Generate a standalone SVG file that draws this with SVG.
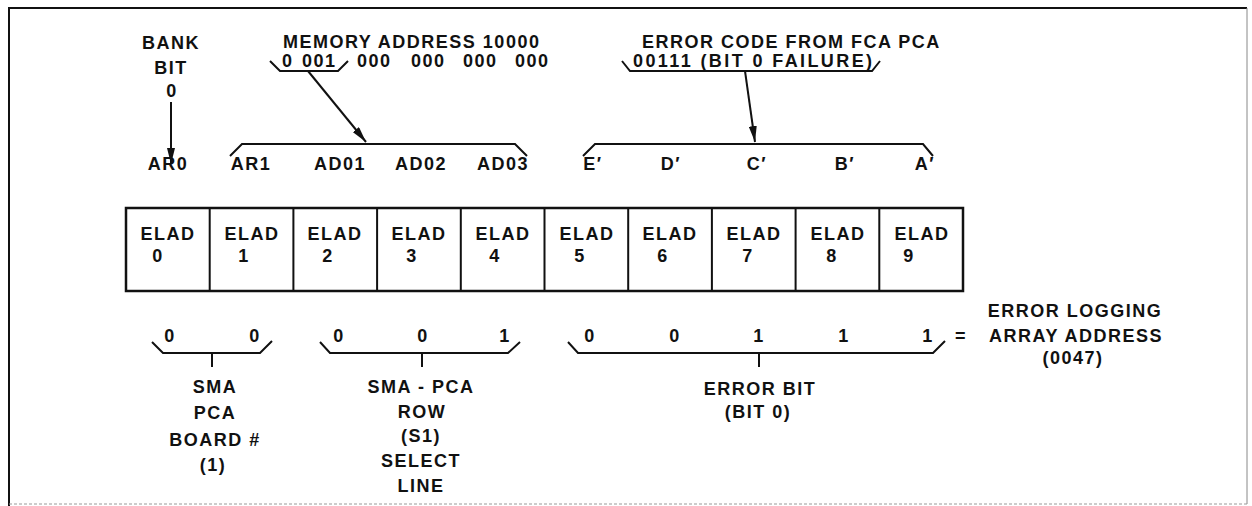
<svg xmlns="http://www.w3.org/2000/svg" width="1252" height="506" viewBox="0 0 1252 506">
<style>
text{font-family:"Liberation Sans",Arial,sans-serif;font-size:18px;font-weight:bold;fill:#111;letter-spacing:1.5px}
.m{text-anchor:middle}
.ln{fill:none;stroke:#111;stroke-width:2}
.cell{fill:#fff;stroke:#111;stroke-width:2.5}
</style>
<defs>
<marker id="ah" viewBox="0 0 16 8" refX="16" refY="4" markerWidth="16" markerHeight="8" markerUnits="userSpaceOnUse" orient="auto">
<path d="M0,0 L16,4 L0,8 Z" fill="#111"/>
</marker>
</defs>
<rect width="1252" height="506" fill="#fff"/>
<g id="frame">
<path d="M9,506 V8 H1247" fill="none" stroke="#111" stroke-width="2"/>
<path d="M1247,8 V504" fill="none" stroke="#888" stroke-width="1"/>
<path d="M9,504 H1247" fill="none" stroke="#999" stroke-width="1" stroke-dasharray="3 2"/>
</g>
<g id="bank-bit">
<text class="m" x="171" y="49">BANK</text>
<text class="m" x="171" y="74">BIT</text>
<text class="m" x="172" y="97">0</text>
</g>
<g id="memory-address">
<text x="283" y="48">MEMORY ADDRESS 10000</text>
<text y="67"><tspan x="282">0</tspan><tspan x="302">001</tspan><tspan x="357">000</tspan><tspan x="411">000</tspan><tspan x="463">000</tspan><tspan x="515">000</tspan></text>
</g>
<g id="error-code">
<text x="642" y="48">ERROR CODE FROM FCA PCA</text>
<text x="633" y="67" style="letter-spacing:2.4px">00111 (BIT 0 FAILURE)</text>
</g>
<g id="signal-labels">
<text class="m" x="168" y="170">AR0</text>
<text class="m" x="251" y="170">AR1</text>
<text class="m" x="340" y="170">AD01</text>
<text class="m" x="421" y="170">AD02</text>
<text class="m" x="503" y="170">AD03</text>
<text class="m" x="593" y="170">E′</text>
<text class="m" x="671" y="170">D′</text>
<text class="m" x="757" y="170">C′</text>
<text class="m" x="845" y="170">B′</text>
<text class="m" x="925" y="170">A′</text>
</g>
<g id="elad-register">
<rect class="cell" x="126" y="208" width="837" height="83"/>
<path class="ln" d="M209.7,208V291M293.4,208V291M377.1,208V291M460.8,208V291M544.5,208V291M628.2,208V291M711.9,208V291M795.6,208V291M879.3,208V291" stroke-width="2.5"/>
</g>
<g id="elad0"><text class="m" x="168" y="240">ELAD</text><text class="m" x="158" y="262">0</text></g>
<g id="elad1"><text class="m" x="252" y="240">ELAD</text><text class="m" x="244" y="262">1</text></g>
<g id="elad2"><text class="m" x="335" y="240">ELAD</text><text class="m" x="328" y="262">2</text></g>
<g id="elad3"><text class="m" x="419" y="240">ELAD</text><text class="m" x="412" y="262">3</text></g>
<g id="elad4"><text class="m" x="503" y="240">ELAD</text><text class="m" x="495" y="262">4</text></g>
<g id="elad5"><text class="m" x="587" y="240">ELAD</text><text class="m" x="580" y="262">5</text></g>
<g id="elad6"><text class="m" x="670" y="240">ELAD</text><text class="m" x="663" y="262">6</text></g>
<g id="elad7"><text class="m" x="754" y="240">ELAD</text><text class="m" x="748" y="262">7</text></g>
<g id="elad8"><text class="m" x="838" y="240">ELAD</text><text class="m" x="832" y="262">8</text></g>
<g id="elad9"><text class="m" x="922" y="240">ELAD</text><text class="m" x="909" y="262">9</text></g>
<g id="bit-values">
<text class="m" x="170" y="342">0</text>
<text class="m" x="255" y="342">0</text>
<text class="m" x="339" y="342">0</text>
<text class="m" x="423" y="342">0</text>
<text class="m" x="505" y="342">1</text>
<text class="m" x="590" y="342">0</text>
<text class="m" x="675" y="342">0</text>
<text class="m" x="759" y="342">1</text>
<text class="m" x="844" y="342">1</text>
<text class="m" x="928" y="342">1</text>
<text class="m" x="961" y="342">=</text>
</g>
<g id="error-logging-address">
<text class="m" x="1075" y="317">ERROR LOGGING</text>
<text class="m" x="1076" y="342">ARRAY ADDRESS</text>
<text class="m" x="1073" y="364">(0047)</text>
</g>
<g id="sma-pca-board">
<text class="m" x="215" y="393">SMA</text>
<text class="m" x="215" y="419">PCA</text>
<text class="m" x="215" y="446">BOARD #</text>
<text class="m" x="213" y="471">(1)</text>
</g>
<g id="sma-pca-row">
<text class="m" x="421" y="393">SMA - PCA</text>
<text class="m" x="422" y="418">ROW</text>
<text class="m" x="421" y="442">(S1)</text>
<text class="m" x="421" y="467">SELECT</text>
<text class="m" x="421" y="492">LINE</text>
</g>
<g id="error-bit">
<text class="m" x="760" y="395">ERROR BIT</text>
<text class="m" x="758" y="418">(BIT 0)</text>
</g>
<g id="connectors">
<path class="ln" d="M270,61 L280,71 H338 L348,61"/>
<path class="ln" d="M622,61 L630,71 H872 L880,61"/>
<path class="ln" d="M230,156 L242,144 H515 L527,156"/>
<path class="ln" d="M583,156 L595,144 H923 L933,156"/>
<path class="ln" d="M171,102 V164" marker-end="url(#ah)"/>
<path class="ln" d="M308,71 L366,142" marker-end="url(#ah)"/>
<path class="ln" d="M745,71 L755,142" marker-end="url(#ah)"/>
<path class="ln" d="M152,342 L163,353 H260 L272,341 M212,353 V367"/>
<path class="ln" d="M320,342 L330,353 H508 L520,342 M422,353 V367"/>
<path class="ln" d="M568,342 L578,353 H933 L945,341 M759,353 V367"/>
</g>
</svg>
